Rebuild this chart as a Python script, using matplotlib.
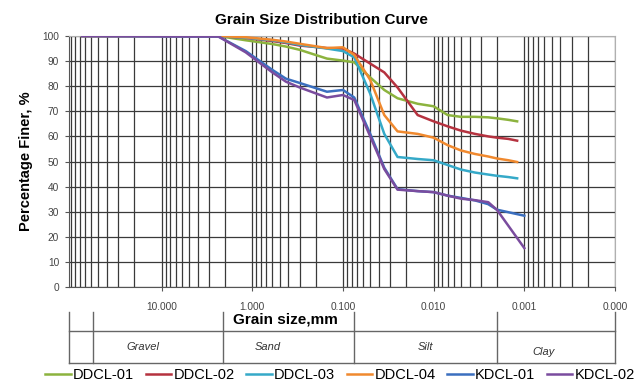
import numpy as np
import matplotlib
matplotlib.use("Agg")
import matplotlib.pyplot as plt
from matplotlib.ticker import FixedLocator, FixedFormatter, LogLocator, NullFormatter

plt.rcParams['font.family'] = ['Liberation Sans', 'DejaVu Sans']

# grain sizes (mm) of the test points
size_dd = [75, 2.36, 1.18, 0.6, 0.425, 0.3, 0.15, 0.1, 0.075, 0.05, 0.035, 0.025,
           0.015, 0.01, 0.007, 0.005, 0.0035, 0.0025, 0.002, 0.0015, 0.0012]
size_kd = [75, 2.36, 1.18, 0.6, 0.425, 0.3, 0.15, 0.1, 0.075, 0.05, 0.035, 0.025,
           0.015, 0.01, 0.007, 0.005, 0.0035, 0.0025, 0.002, 0.0015, 0.001]

ddcl_01 = [100, 100, 98.3, 96.8, 95.8, 94.5, 91.0, 90.2, 89.5, 83.5, 78.5, 75.2,
           73.0, 72.0, 68.5, 67.8, 67.8, 67.6, 67.2, 66.6, 66.0]
ddcl_02 = [100, 100, 99.2, 98.0, 97.2, 96.2, 95.2, 95.0, 93.0, 89.0, 85.5, 79.5,
           68.5, 66.0, 64.0, 62.3, 61.0, 60.0, 59.5, 59.0, 58.3]
ddcl_03 = [100, 100, 99.3, 98.3, 97.5, 96.5, 95.0, 94.0, 91.5, 77.0, 61.0, 51.8,
           51.0, 50.5, 48.6, 46.8, 45.6, 44.8, 44.3, 43.8, 43.3]
ddcl_04 = [100, 100, 99.5, 98.5, 97.8, 96.9, 95.2, 95.5, 92.5, 82.5, 68.5, 62.0,
           61.0, 59.5, 56.5, 54.4, 53.0, 52.0, 51.2, 50.5, 49.8]
kdcl_01 = [100, 99.8, 94.0, 86.5, 83.0, 81.3, 77.8, 78.5, 75.5, 61.0, 47.5, 39.0,
           38.2, 37.8, 36.4, 35.5, 34.5, 33.0, 30.8, 29.8, 28.4]
kdcl_02 = [100, 99.8, 93.5, 85.5, 81.8, 79.5, 75.5, 76.5, 74.5, 60.0, 47.0, 38.8,
           38.2, 37.8, 36.4, 35.2, 34.6, 33.8, 30.7, 24.4, 15.5]

series = [("DDCL-01", size_dd, ddcl_01, "#8cb33e"),
          ("DDCL-02", size_dd, ddcl_02, "#b5323f"),
          ("DDCL-03", size_dd, ddcl_03, "#35a9c8"),
          ("DDCL-04", size_dd, ddcl_04, "#f0892e"),
          ("KDCL-01", size_kd, kdcl_01, "#3b6fbf"),
          ("KDCL-02", size_kd, kdcl_02, "#7a4c9e")]

tick_values = [10, 1, 0.1, 0.01, 0.001, 0.0001]
tick_labels = ["10.000", "1.000", "0.100", "0.010", "0.001", "0.000"]

# soil classes and their boundaries (mm)
class_bounds = [57.3, 2.1, 0.075, 0.002]
class_names = ["Gravel", "Sand", "Silt", "Clay"]
class_label_x = [16, 0.67, 0.0124, 0.00062]

fig = plt.figure(figsize=(6.38, 3.81), dpi=100)
ax = fig.add_axes([0.108, 0.2467, 0.856, 0.6588])

for name, x, y, c in series:
    ax.plot(x, y, color=c, lw=1.8, label=name, zorder=3, solid_joinstyle="round")

ax.set_xscale("log")
ax.set_xlim(105, 0.0001)
ax.set_ylim(0, 100)
ax.xaxis.set_major_locator(FixedLocator(tick_values))
ax.xaxis.set_major_formatter(FixedFormatter(tick_labels))
ax.xaxis.set_minor_locator(LogLocator(base=10, subs=np.arange(1, 10)))
ax.xaxis.set_minor_formatter(NullFormatter())
ax.set_yticks(np.arange(0, 101, 10))

ax.grid(which="both", axis="x", color="#3a3a3a", lw=0.9)
ax.grid(which="major", axis="y", color="#3a3a3a", lw=0.9)
ax.set_axisbelow(True)

ax.tick_params(axis="x", which="major", length=3, pad=8, labelsize=7.3,
               labelcolor="#444444", color="#555555")
ax.tick_params(axis="x", which="minor", length=0)
ax.tick_params(axis="y", length=3, pad=4, labelsize=7.3, labelcolor="#444444",
               color="#555555")
for side in ["top", "right"]:
    ax.spines[side].set_color("#b0b0b0")
for side in ["left", "bottom"]:
    ax.spines[side].set_color("#555555")

ax.set_ylabel("Percentage Finer, %", fontsize=10.5, fontweight="bold", labelpad=7)
fig.text(321 / 638, 1 - 20 / 381, "Grain Size Distribution Curve", ha="center",
         va="center", fontsize=11, fontweight="bold")

# classification table under the axis
tr = ax.get_xaxis_transform()
y_top, y_mid, y_bot = -0.0996, -0.175, -0.303
lkw = dict(transform=tr, clip_on=False, color="#666666", lw=1)
x_left, x_right = ax.get_xlim()
ax.plot([x_left, x_right], [y_mid, y_mid], **lkw)
ax.plot([x_left, x_right], [y_bot, y_bot], **lkw)
for xv in [x_left] + class_bounds + [x_right]:
    ax.plot([xv, xv], [y_top, y_bot], **lkw)
for nm, xv in zip(class_names, class_label_x):
    yy = -0.259 if nm == "Clay" else -0.239
    ax.text(xv, yy, nm, transform=tr, ha="center", va="center", fontsize=8,
            style="italic", color="#333333")
ax.text(0.426, -0.131, "Grain size,mm", transform=tr, ha="center", va="center",
        fontsize=11, fontweight="bold")

fig.legend(loc="center", bbox_to_anchor=(340 / 638, 6 / 381), ncol=6, frameon=False,
           fontsize=10.5, handlelength=1.75, handletextpad=0.15, columnspacing=0.8,
           borderpad=0, borderaxespad=0)

fig.savefig("out.png", dpi=100)
